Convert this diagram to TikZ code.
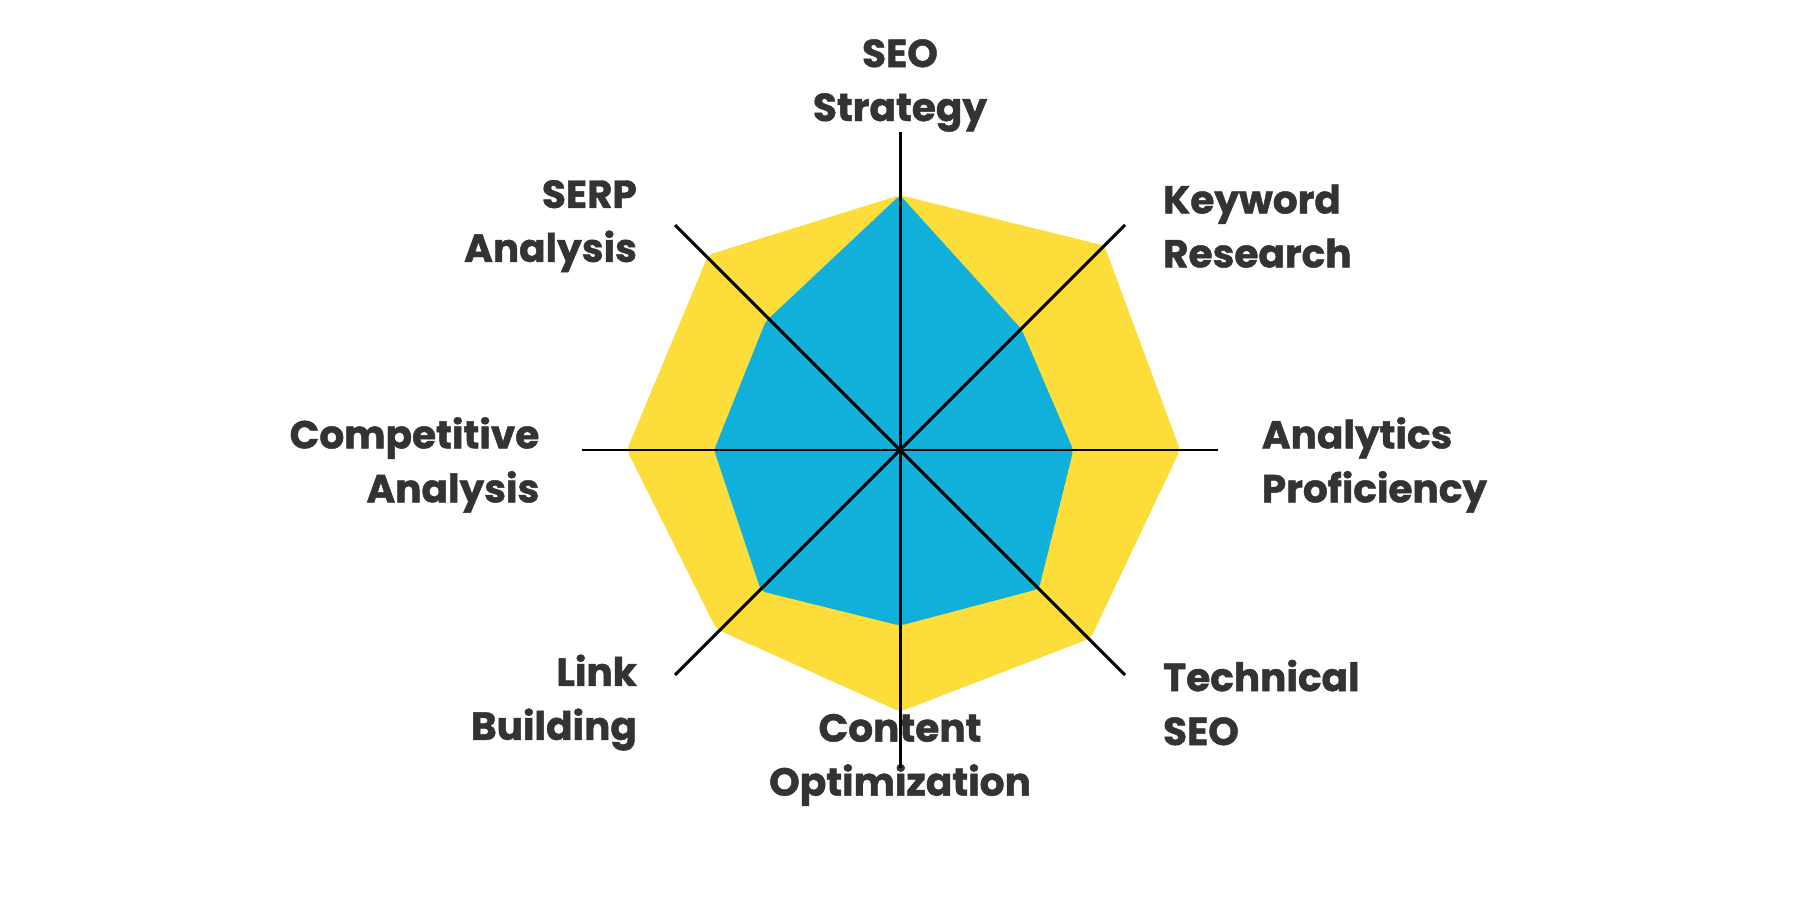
\documentclass[tikz,border=0pt]{standalone}
\usepackage{fontspec}
\setmainfont{Poppins}[FakeBold=1.2]
\definecolor{ylw}{HTML}{FDDD3A}
\definecolor{blu}{HTML}{11B0DA}
\definecolor{txt}{HTML}{333333}
\begin{document}
\begin{tikzpicture}[x=1pt,y=-1pt,
  lbl/.style={text=txt,font=\fontsize{34}{47}\selectfont\bfseries,inner sep=0pt},
  axis/.style={line width=2.6pt,black}]
\useasboundingbox (0,0) rectangle (1568,784);
\coordinate (c) at (784,392);
\fill[ylw,rounded corners=4pt] (784,170) -- (962,214) -- (1028,392) -- (950,556) -- (784,620) -- (624,548) -- (546,392) -- (617,222) -- cycle;
\fill[blu,rounded corners=4pt] (784,170) -- (890,287) -- (935,392) -- (905,513) -- (784,545) -- (663,515) -- (622,392) -- (667,280) -- cycle;
\node[lbl,align=center,anchor=north] (n1) at (784,34) {SEO\\Strategy};
\node[lbl,align=left,anchor=west] (n2) at (1013,197) {Keyword\\Research};
\node[lbl,align=left,anchor=west] (n3) at (1099,405) {Analytics\\Proficiency};
\node[lbl,align=left,anchor=west] (n4) at (1013,612) {Technical\\SEO};
\node[lbl,align=center] (n5) at (784,662) {Content\\Optimization};
\node[lbl,align=right,anchor=east] (n6) at (555,612) {Link\\Building};
\node[lbl,align=right,anchor=east] (n7) at (470,405) {Competitive\\Analysis};
\node[lbl,align=right,anchor=east] (n8) at (555,197) {SERP\\Analysis};
\coordinate (a1) at (784,115); \coordinate (a5) at (784,669);
\coordinate (a3) at (1061,392); \coordinate (a7) at (507,392);
\coordinate (a2) at (980,196); \coordinate (a6) at (588,588);
\coordinate (a8) at (588,196); \coordinate (a4) at (980,588);
\draw[axis] (a1) -- (a5);
\draw[axis] (a3) -- (a7);
\draw[axis] (a2) -- (a6);
\draw[axis] (a8) -- (a4);
\end{tikzpicture}
\end{document}
